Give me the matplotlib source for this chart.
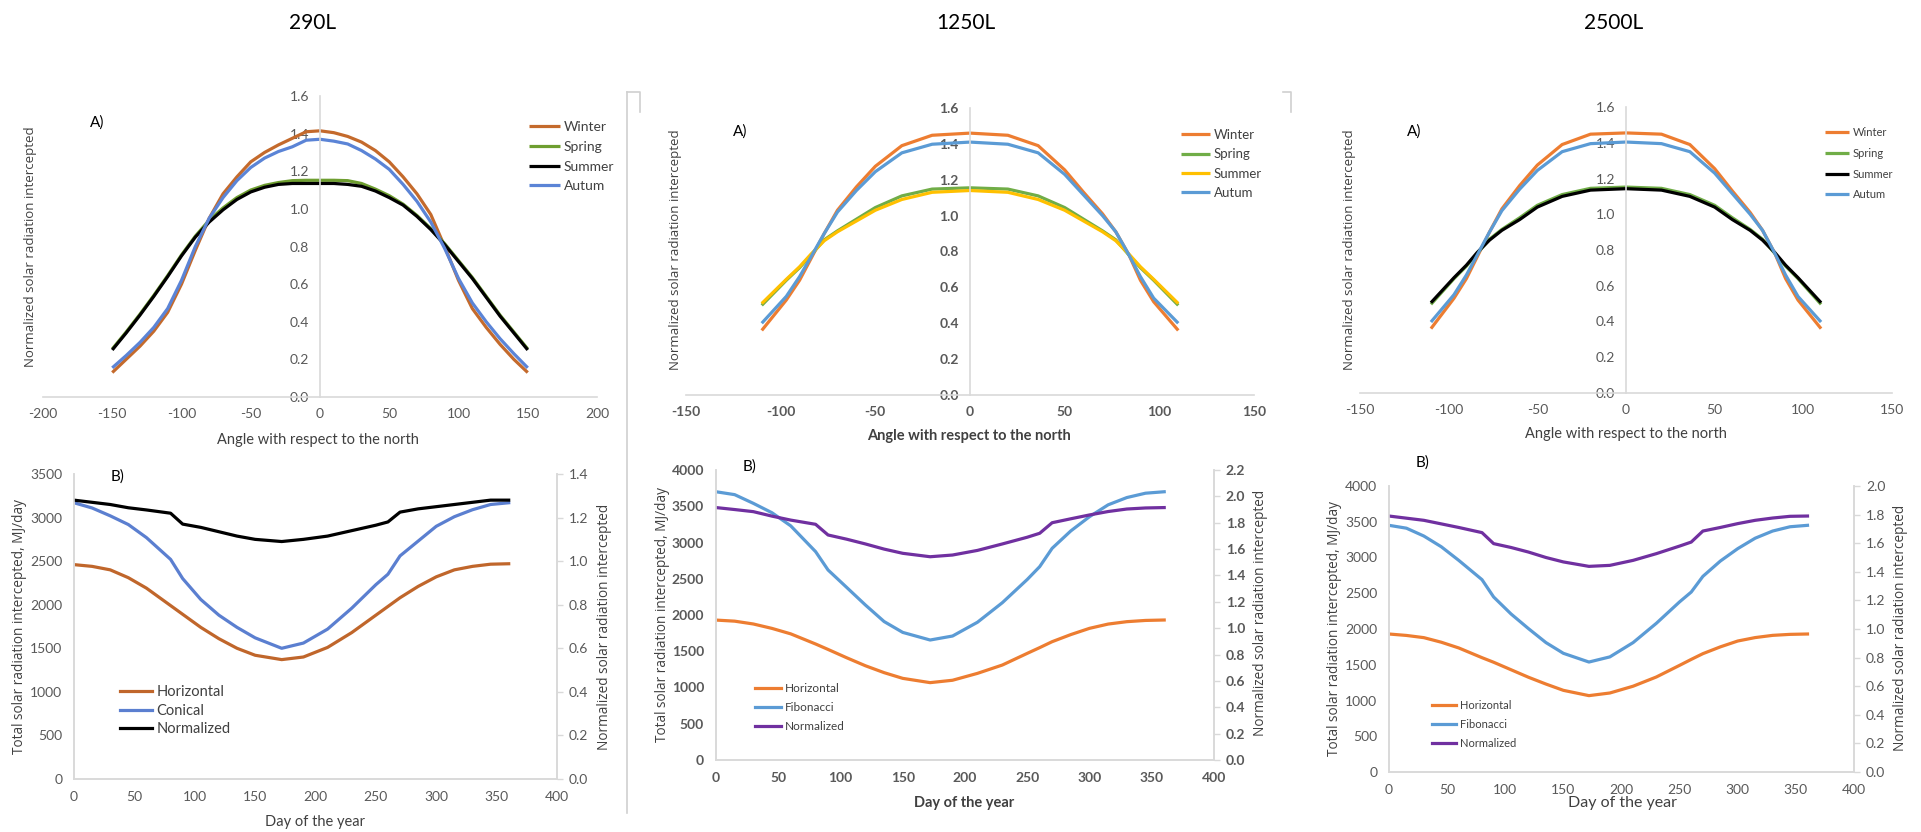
import numpy as np
import matplotlib
matplotlib.use('Agg')
import matplotlib.pyplot as plt
from matplotlib.lines import Line2D

plt.rcParams['font.family'] = ['Lato', 'DejaVu Sans']
plt.rcParams['axes.unicode_minus'] = False

# ---------------- data ----------------
# A) panels: normalized radiation vs angle
angles_290 = list(range(-150, 151, 10))
winter_290 = [0.13, 0.20, 0.27, 0.35, 0.45, 0.60, 0.78, 0.95, 1.08, 1.17, 1.25, 1.30, 1.34, 1.375, 1.41, 1.415,
              1.405, 1.385, 1.355, 1.31, 1.25, 1.17, 1.08, 0.97, 0.80, 0.62, 0.47, 0.37, 0.28, 0.20, 0.13]
spring_290 = [0.255, 0.345, 0.44, 0.54, 0.645, 0.755, 0.855, 0.94, 1.005, 1.06, 1.10, 1.125, 1.14, 1.15, 1.152, 1.152,
              1.152, 1.15, 1.135, 1.105, 1.07, 1.025, 0.965, 0.895, 0.815, 0.725, 0.635, 0.535, 0.435, 0.345, 0.255]
summer_290 = [0.25, 0.34, 0.435, 0.535, 0.64, 0.75, 0.85, 0.93, 0.995, 1.05, 1.09, 1.115, 1.13, 1.135, 1.135, 1.135,
              1.135, 1.13, 1.12, 1.095, 1.06, 1.02, 0.96, 0.89, 0.81, 0.72, 0.63, 0.53, 0.43, 0.34, 0.25]
autum_290 = [0.155, 0.22, 0.29, 0.37, 0.47, 0.62, 0.80, 0.95, 1.06, 1.15, 1.22, 1.27, 1.305, 1.33, 1.365, 1.37,
             1.36, 1.345, 1.31, 1.265, 1.21, 1.13, 1.04, 0.93, 0.79, 0.63, 0.50, 0.40, 0.31, 0.23, 0.155]

angles_1250 = [-110, -97, -90, -84, -77, -70, -60, -50, -36, -20, 0, 20, 36, 50, 60, 70, 77, 84, 90, 97, 110]
winter_1250 = [0.36, 0.53, 0.64, 0.76, 0.90, 1.03, 1.16, 1.275, 1.39, 1.448, 1.46,
               1.448, 1.39, 1.255, 1.13, 1.01, 0.91, 0.78, 0.64, 0.52, 0.36]
spring_1250 = [0.50, 0.64, 0.71, 0.78, 0.865, 0.915, 0.98, 1.045, 1.11, 1.148, 1.155,
               1.148, 1.11, 1.045, 0.98, 0.915, 0.865, 0.78, 0.71, 0.64, 0.50]
summer_1250 = [0.51, 0.645, 0.715, 0.785, 0.86, 0.91, 0.97, 1.03, 1.09, 1.13, 1.14,
               1.13, 1.09, 1.03, 0.97, 0.91, 0.86, 0.785, 0.715, 0.645, 0.51]
autum_1250 = [0.40, 0.55, 0.66, 0.77, 0.90, 1.02, 1.14, 1.245, 1.35, 1.398, 1.41,
              1.398, 1.35, 1.23, 1.115, 1.00, 0.91, 0.78, 0.66, 0.54, 0.40]

angles_2500 = [-110, -97, -90, -84, -77, -70, -60, -50, -36, -20, 0, 20, 36, 50, 60, 70, 77, 84, 90, 97, 110]
winter_2500 = [0.36, 0.53, 0.64, 0.76, 0.90, 1.03, 1.16, 1.275, 1.39, 1.448, 1.455,
               1.448, 1.39, 1.255, 1.13, 1.01, 0.91, 0.78, 0.64, 0.52, 0.36]
spring_2500 = [0.496, 0.64, 0.71, 0.78, 0.86, 0.915, 0.98, 1.05, 1.11, 1.145, 1.152,
               1.145, 1.11, 1.05, 0.98, 0.915, 0.86, 0.78, 0.71, 0.64, 0.496]
summer_2500 = [0.505, 0.645, 0.715, 0.785, 0.855, 0.91, 0.97, 1.04, 1.10, 1.135, 1.143,
               1.135, 1.10, 1.04, 0.97, 0.91, 0.855, 0.785, 0.715, 0.645, 0.505]
autum_2500 = [0.397, 0.55, 0.66, 0.77, 0.90, 1.02, 1.14, 1.245, 1.35, 1.395, 1.404,
              1.395, 1.35, 1.23, 1.115, 1.00, 0.91, 0.78, 0.66, 0.54, 0.397]

# B) panels: radiation vs day of the year
days = [0, 15, 30, 45, 60, 80, 90, 105, 120, 135, 150, 172, 190, 210, 230, 250, 260, 270, 285, 300, 315, 330, 345, 360]
horiz_290 = [2460, 2440, 2400, 2310, 2190, 1990, 1890, 1740, 1610, 1500, 1420, 1370, 1400, 1510, 1680, 1880,
             1980, 2080, 2210, 2320, 2400, 2440, 2465, 2470]
conical_290 = [3170, 3110, 3020, 2920, 2770, 2520, 2300, 2060, 1880, 1740, 1620, 1500, 1560, 1720, 1960, 2230,
               2350, 2560, 2730, 2900, 3010, 3090, 3150, 3170]
norm_290 = [1.28, 1.27, 1.26, 1.245, 1.235, 1.22, 1.17, 1.155, 1.135, 1.115, 1.10, 1.09, 1.10, 1.115, 1.14, 1.165,
            1.18, 1.225, 1.24, 1.25, 1.26, 1.27, 1.28, 1.28]

horiz_1250 = [1930, 1915, 1876, 1815, 1740, 1600, 1525, 1410, 1300, 1205, 1126, 1067, 1100, 1195, 1310, 1471,
              1550, 1632, 1730, 1816, 1875, 1908, 1925, 1931]
fibo_1250 = [3700, 3660, 3540, 3410, 3230, 2874, 2621, 2380, 2138, 1910, 1760, 1655, 1710, 1900, 2170, 2490,
             2667, 2920, 3160, 3356, 3520, 3620, 3680, 3700]
norm_1250 = [1.915, 1.90, 1.884, 1.85, 1.82, 1.788, 1.707, 1.675, 1.639, 1.60, 1.568, 1.542, 1.555, 1.59, 1.639, 1.69,
             1.72, 1.80, 1.83, 1.859, 1.885, 1.904, 1.912, 1.915]

horiz_2500 = [1930, 1910, 1879, 1815, 1735, 1599, 1535, 1430, 1325, 1230, 1142, 1068, 1105, 1200, 1329, 1492,
              1575, 1655, 1750, 1832, 1880, 1911, 1925, 1930]
fibo_2500 = [3450, 3410, 3300, 3150, 2960, 2690, 2448, 2210, 2005, 1810, 1660, 1538, 1610, 1810, 2080, 2380,
             2517, 2736, 2950, 3124, 3270, 3370, 3430, 3450]
norm_2500 = [1.79, 1.775, 1.76, 1.735, 1.71, 1.674, 1.597, 1.57, 1.538, 1.50, 1.469, 1.438, 1.445, 1.48, 1.527, 1.58,
             1.608, 1.685, 1.71, 1.737, 1.76, 1.776, 1.788, 1.79]

season_names = ['Winter', 'Spring', 'Summer', 'Autum']

W, H = 1921, 832
GRID = '#D9D9D9'
TICK = '#595959'

fig = plt.figure(figsize=(W / 100, H / 100), dpi=100)


def rect(x0, x1, ytop, ybot):
    # pixel box -> figure fraction
    return [x0 / W, 1 - ybot / H, (x1 - x0) / W, (ybot - ytop) / H]


def ftext(x, y, s, **kw):
    fig.text(x / W, 1 - y / H, s, ha='center', va='center', **kw)


def top_panel(box, x, series, colors, xlim, xticks, bold, leg_xy, leg_fs, leg_space):
    ax = fig.add_axes(rect(*box))
    for ys, c, name in zip(series, colors, season_names):
        ax.plot(x, ys, color=c, lw=2.3, label=name, solid_capstyle='butt')
    ax.set_xlim(xlim)
    ax.set_ylim(0, 1.6)
    ax.set_xticks(xticks)
    ax.set_yticks(np.arange(0, 1.61, 0.2))
    ax.set_yticklabels(['%.1f' % v for v in np.arange(0, 1.61, 0.2)])
    ax.spines['left'].set_position(('data', 0))
    for s in ['top', 'right']:
        ax.spines[s].set_visible(False)
    for s in ['left', 'bottom']:
        ax.spines[s].set_color(GRID)
        ax.spines[s].set_linewidth(1.2)
    ax.tick_params(length=0, colors=TICK, labelsize=10, pad=8)
    if bold:
        for lab in ax.get_xticklabels() + ax.get_yticklabels():
            lab.set_fontweight('bold')
    ax.legend(loc='upper left', bbox_to_anchor=(leg_xy[0] / W, 1 - leg_xy[1] / H),
              bbox_transform=fig.transFigure, frameon=False, fontsize=leg_fs,
              borderpad=0, borderaxespad=0, handlelength=2.2, handletextpad=0.3,
              labelspacing=leg_space, labelcolor='#404040')
    return ax


def bottom_panel(box, series, colors, names, ymax, ystep, rmax, bold, leg_xy, leg_fs, leg_space):
    ax = fig.add_axes(rect(*box))
    ax2 = ax.twinx()
    handles = []
    for ys, c, name in zip(series[:2], colors[:2], names[:2]):
        h, = ax.plot(days, ys, color=c, lw=2.3, label=name)
        handles.append(h)
    h, = ax2.plot(days, series[2], color=colors[2], lw=2.3, label=names[2])
    handles.append(h)
    ax.set_xlim(0, 400)
    ax.set_xticks(np.arange(0, 401, 50))
    ax.set_ylim(0, ymax)
    ax.set_yticks(np.arange(0, ymax + 1, ystep))
    ax2.set_ylim(0, rmax)
    rt = np.arange(0, rmax + 0.001, 0.2)
    ax2.set_yticks(rt)
    ax2.set_yticklabels(['%.1f' % v for v in rt])
    for a in (ax, ax2):
        a.spines['top'].set_visible(False)
        for s in ['left', 'bottom', 'right']:
            a.spines[s].set_color(GRID)
            a.spines[s].set_linewidth(1.2)
    ax.tick_params(length=0, colors=TICK, labelsize=10, pad=8.5)
    ax2.tick_params(axis='y', length=4.5, width=1, color=GRID, labelcolor=TICK, labelsize=10, pad=4)
    if bold:
        for lab in ax.get_xticklabels() + ax.get_yticklabels() + ax2.get_yticklabels():
            lab.set_fontweight('bold')
    ax2.legend(handles=handles, loc='upper left', bbox_to_anchor=(leg_xy[0] / W, 1 - leg_xy[1] / H),
               bbox_transform=fig.transFigure, frameon=False, fontsize=leg_fs,
               borderpad=0, borderaxespad=0, handlelength=2.2, handletextpad=0.3,
               labelspacing=leg_space, labelcolor='#404040')
    return ax, ax2


# ---------------- 290L ----------------
top_panel((43, 597, 96, 397), angles_290, [winter_290, spring_290, summer_290, autum_290],
          ['#C46A2C', '#6E9E30', '#000000', '#5B84D6'], (-200, 200), np.arange(-200, 201, 50),
          False, (529, 121), 10, 0.56)
bottom_panel((74, 557, 474, 779), [horiz_290, conical_290, norm_290], ['#C0662B', '#5B7FD0', '#000000'],
             ['Horizontal', 'Conical', 'Normalized'], 3500, 500, 1.4, False, (120, 685), 10.5, 0.32)

# ---------------- 1250L ----------------
top_panel((686, 1254, 108, 395), angles_1250, [winter_1250, spring_1250, summer_1250, autum_1250],
          ['#ED7D31', '#70AD47', '#FFC000', '#5B9BD5'], (-150, 150), np.arange(-150, 151, 50),
          True, (1181, 129), 9.5, 0.55)
bottom_panel((716, 1214, 470, 760), [horiz_1250, fibo_1250, norm_1250], ['#ED7D31', '#5B9BD5', '#7030A0'],
             ['Horizontal', 'Fibonacci', 'Normalized'], 4000, 500, 2.2, True, (755, 683), 8.5, 0.68)

# ---------------- 2500L ----------------
top_panel((1360, 1892, 107, 393), angles_2500, [winter_2500, spring_2500, summer_2500, autum_2500],
          ['#ED7D31', '#70AD47', '#000000', '#5B9BD5'], (-150, 150), np.arange(-150, 151, 50),
          False, (1825, 127), 8, 0.88)
bottom_panel((1389, 1854, 486, 772), [horiz_2500, fibo_2500, norm_2500], ['#ED7D31', '#5B9BD5', '#7030A0'],
             ['Horizontal', 'Fibonacci', 'Normalized'], 4000, 500, 2.0, False, (1432, 700), 8, 0.72)

# ---------------- titles and labels ----------------
for x, s in [(313, '290L'), (966, '1250L'), (1614, '2500L')]:
    ftext(x, 23, s, fontsize=15, color='black')

for x, y in [(97, 123), (740, 132), (1414, 132)]:
    ftext(x, y, 'A)', fontsize=11, color='black')
for x, y in [(118, 477), (750, 467), (1423, 463)]:
    ftext(x, y, 'B)', fontsize=11, color='black')

ftext(318, 440, 'Angle with respect to the north', fontsize=10.5, color='#404040')
ftext(969, 436, 'Angle with respect to the north', fontsize=10.5, color='#404040', fontweight='bold')
ftext(1626, 434, 'Angle with respect to the north', fontsize=10.5, color='#404040')
ftext(315, 822, 'Day of the year', fontsize=10.5, color='#404040')
ftext(964, 803, 'Day of the year', fontsize=10.5, color='#404040', fontweight='bold')
ftext(1622, 803, 'Day of the year', fontsize=11.5, color='#404040')

ylab_a = 'Normalized solar radiation intercepted'
ylab_l = 'Total solar radiation intercepted, MJ/day'
ylab_r = 'Normalized solar radiation intercepted'
ykw = dict(rotation=90, color='#404040', family=['Open Sans', 'DejaVu Sans'])
ftext(31, 247, ylab_a, fontsize=9.5, **ykw)
ftext(675, 250, ylab_a, fontsize=9.5, **ykw)
ftext(1349, 250, ylab_a, fontsize=9.5, **ykw)
ftext(20, 627, ylab_l, fontsize=9.8, **ykw)
ftext(604, 627, ylab_r, fontsize=9.8, **ykw)
ftext(662, 615, ylab_l, fontsize=9.8, **ykw)
ftext(1260, 613, ylab_r, fontsize=9.8, **ykw)
ftext(1335, 628, ylab_l, fontsize=9.8, **ykw)
ftext(1900, 628, ylab_r, fontsize=9.8, **ykw)

# faint frame pieces of the middle chart
frame = dict(color='#D0D0D0', lw=1.2, transform=fig.transFigure)
fig.add_artist(Line2D([627 / W, 627 / W], [1 - 92 / H, 1 - 813 / H], **frame))
fig.add_artist(Line2D([627 / W, 640 / W, 640 / W], [1 - 92 / H, 1 - 92 / H, 1 - 112 / H], **frame))
fig.add_artist(Line2D([1283 / W, 1291 / W, 1291 / W], [1 - 92 / H, 1 - 92 / H, 1 - 112 / H], **frame))

fig.savefig('out.png', dpi=100, facecolor='white')
